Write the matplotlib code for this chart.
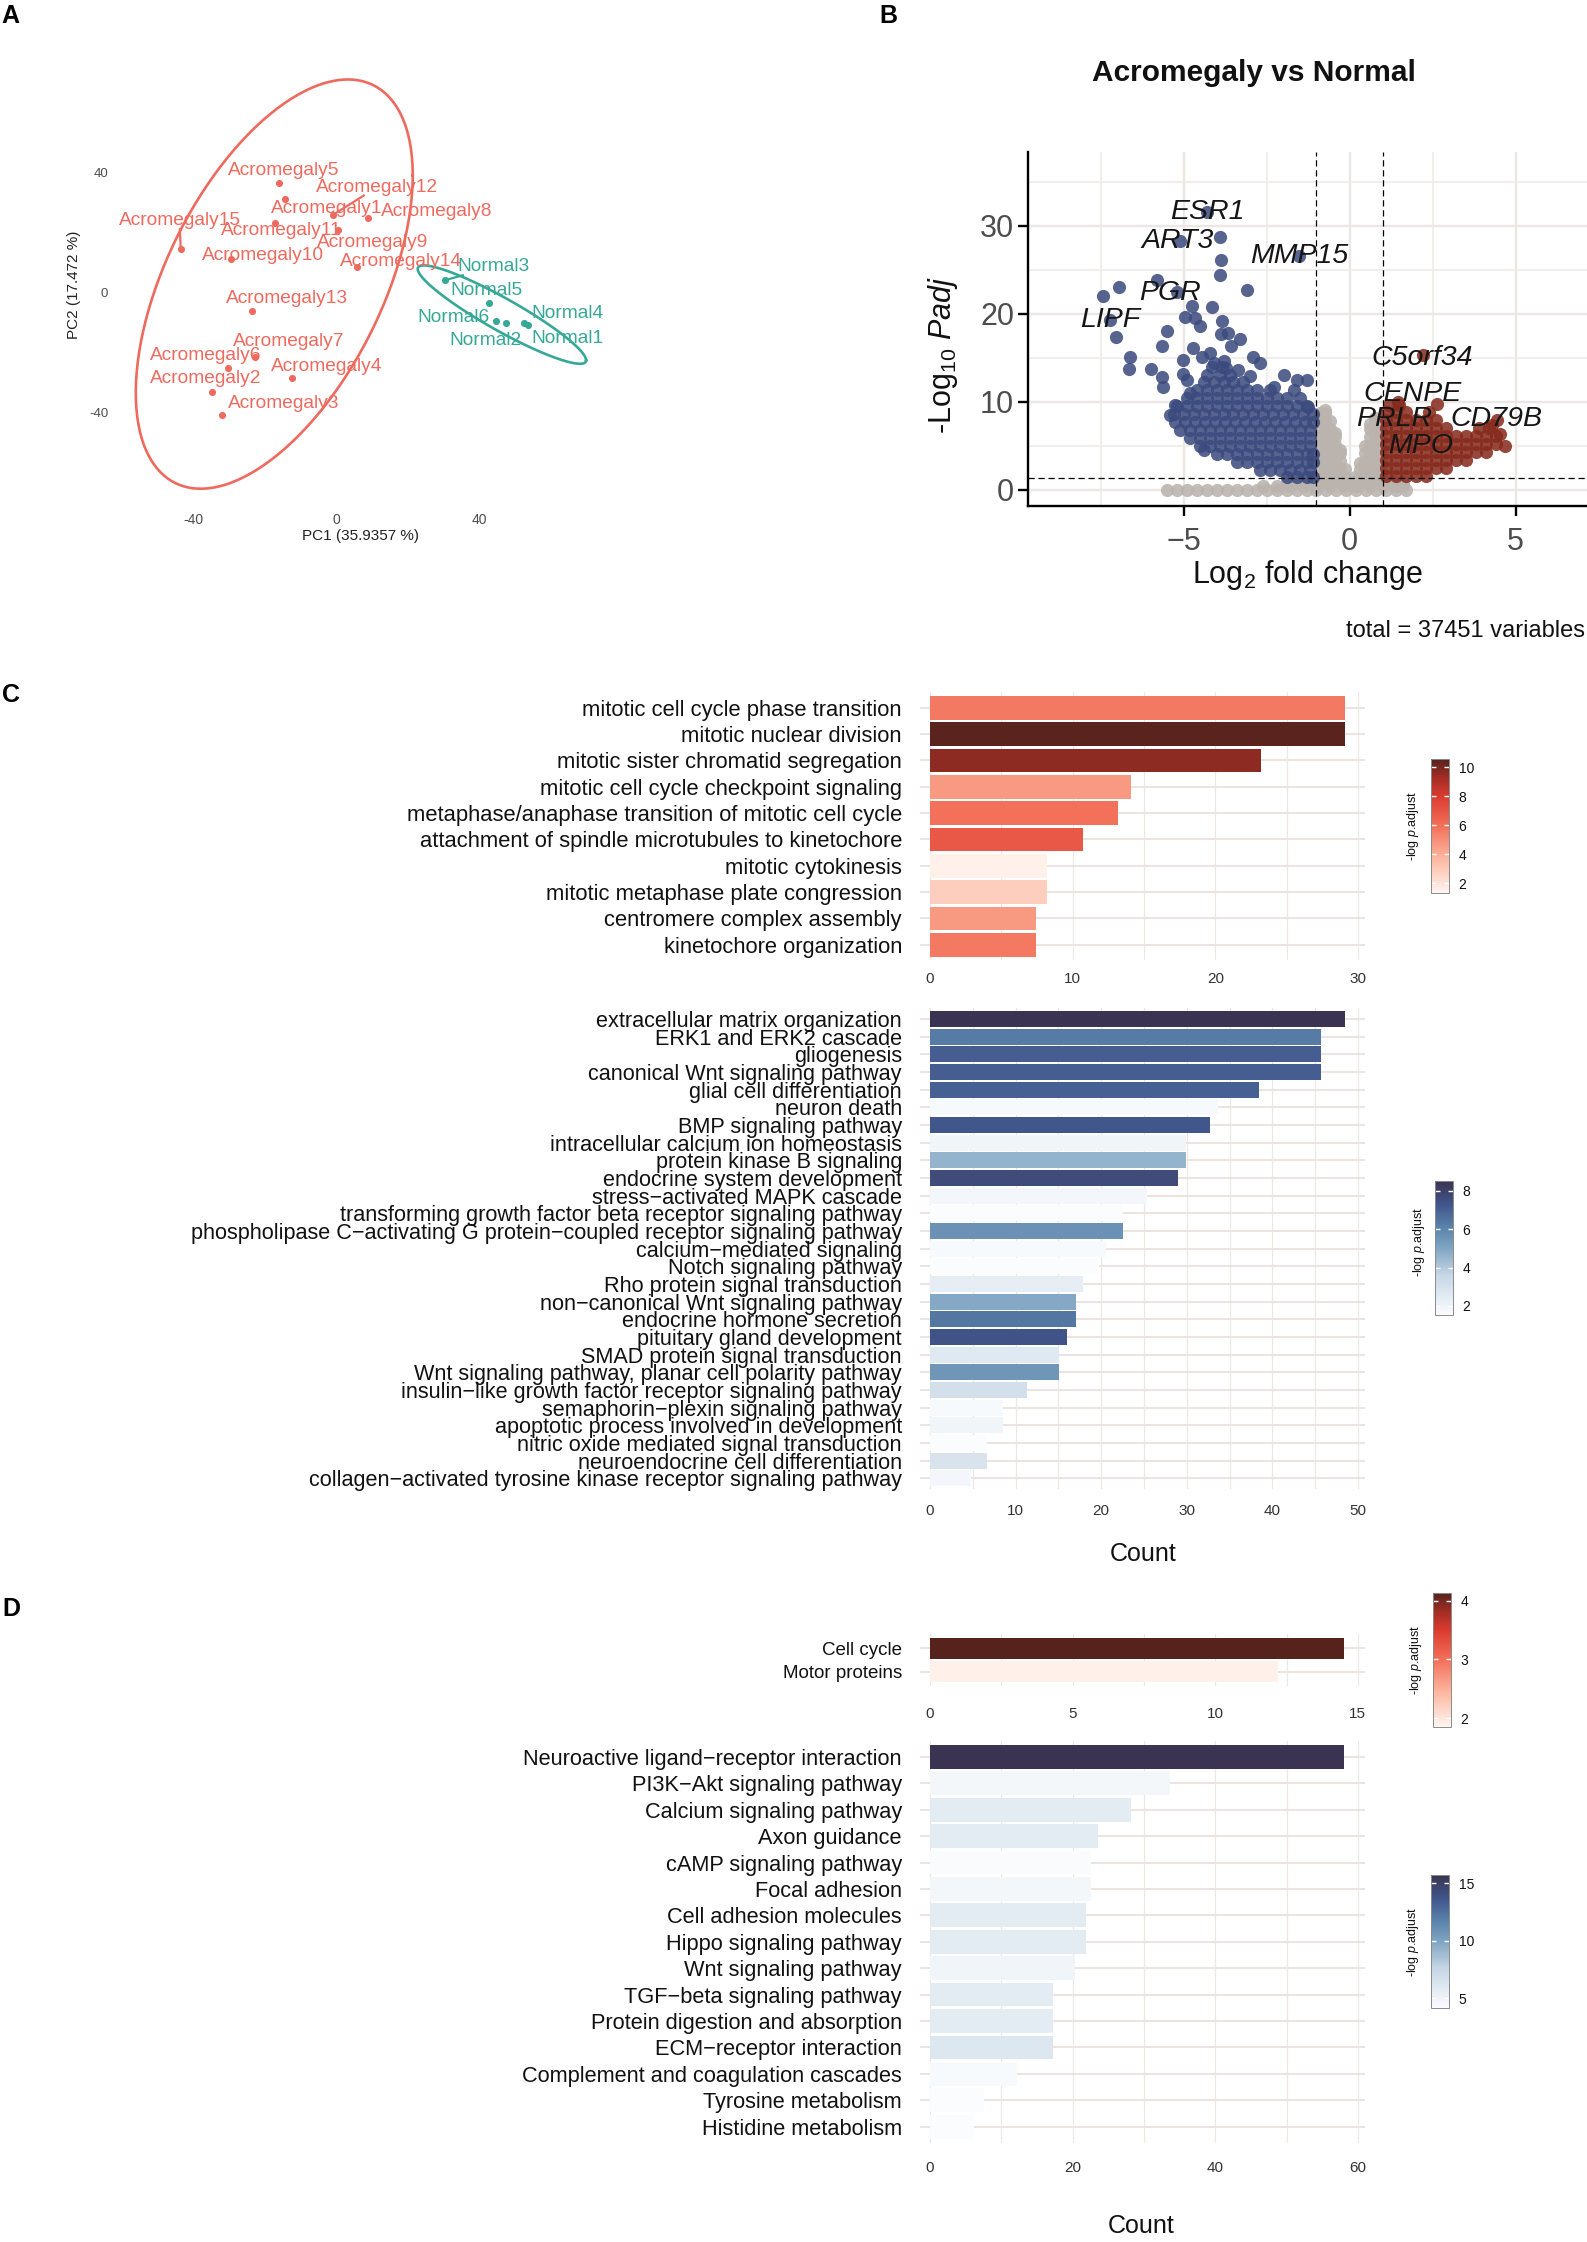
import numpy as np
import matplotlib
matplotlib.use('Agg')
import matplotlib.pyplot as plt
from matplotlib.colors import LinearSegmentedColormap, Normalize
from matplotlib.cm import ScalarMappable
from matplotlib.ticker import MultipleLocator

plt.rcParams['font.family'] = ['Liberation Sans', 'DejaVu Sans']
plt.rcParams['mathtext.fontset'] = 'custom'
plt.rcParams['mathtext.rm'] = 'Liberation Sans'
plt.rcParams['mathtext.it'] = 'Liberation Sans:italic'
plt.rcParams['mathtext.bf'] = 'Liberation Sans:bold'

# ------------------------------------------------------------------ data A (PCA)
acro_names = ['Acromegaly1', 'Acromegaly2', 'Acromegaly3', 'Acromegaly4', 'Acromegaly5',
              'Acromegaly6', 'Acromegaly7', 'Acromegaly8', 'Acromegaly9', 'Acromegaly10',
              'Acromegaly11', 'Acromegaly12', 'Acromegaly13', 'Acromegaly14', 'Acromegaly15']
acro_pc1 = [-14.6, -35.0, -32.1, -12.6, -16.1, -30.3, -22.9, 8.9, 0.4, -29.7, -17.4, -1.1, -23.6, 5.7, -43.7]
acro_pc2 = [31.1, -32.9, -40.6, -28.3, 36.6, -25.0, -21.5, 24.9, 20.9, 11.3, 23.1, 25.8, -6.2, 8.6, 14.4]
acro_lab_x = [-2.7, -36.7, -14.9, -2.9, -14.9, -36.6, -13.4, 28.1, 10.1, -20.7, -15.6, 11.4, -13.9, 17.9, -44.0]
acro_lab_y = [27.9, -28.7, -36.7, -24.4, 40.6, -20.9, -16.2, 27.1, 16.6, 12.3, 20.6, 35.1, -1.8, 10.5, 23.9]

norm_names = ['Normal1', 'Normal2', 'Normal3', 'Normal4', 'Normal5', 'Normal6']
norm_pc1 = [53.7, 47.6, 30.3, 52.4, 42.6, 44.7]
norm_pc2 = [-10.8, -10.2, 4.1, -10.2, -3.4, -9.4]
norm_lab_x = [64.7, 41.6, 43.9, 64.7, 41.9, 32.7]
norm_lab_y = [-15.4, -15.8, 8.6, -6.8, 0.6, -8.2]
segment_labels = ['Acromegaly15', 'Acromegaly12', 'Normal3']

pca_xticks = [-40, 0, 40]
pca_xticklabels = ['-40', '0', '40']
pca_yticks = [-40, 0, 40]
pca_yticklabels = ['-40', '0', '40']

# ------------------------------------------------------------------ data B (volcano)
blue_out_x = [-4.30, -3.92, -5.12, -3.88, -3.90, -1.54, -3.10, -5.81, -6.96, -7.42, -5.20, -4.75,
              -4.15, -7.23, -7.04, -4.97, -4.65, -4.52, -3.85, -5.51, -5.66, -3.88, -3.65, -3.30,
              -3.58, -6.61, -6.66, -5.99, -5.66, -5.61, -5.03, -5.01, -4.71, -4.46, -4.20, -4.10,
              -3.80, -3.72, -2.90, -2.70, -3.35, -3.00, -1.99, -1.59, -1.29, -2.29, -1.69, -1.24,
              -5.26, -5.41, -4.90, -4.80, -4.40]
blue_out_y = [31.6, 28.7, 28.3, 26.1, 24.4, 26.6, 22.7, 23.8, 23.1, 22.0, 22.5, 20.9,
              20.8, 19.3, 17.4, 19.7, 19.5, 18.6, 19.2, 18.0, 16.4, 17.7, 17.8, 17.2,
              16.4, 15.1, 13.7, 13.7, 12.8, 11.7, 14.7, 13.2, 16.1, 15.1, 15.5, 14.4,
              14.6, 13.8, 15.1, 14.4, 13.6, 12.9, 13.0, 12.5, 12.5, 11.7, 11.3, 9.4,
              9.6, 8.5, 12.5, 11.0, 4.5]
blue_row_y = [1.5, 2.3, 3.2, 4.1, 5.0, 5.9, 6.8, 7.7, 8.6, 9.5, 10.4, 11.3, 12.2, 13.1, 14.0]
blue_row_x = [
    [-1.9, -1.6, -1.3, -1.1],
    [-2.7, -2.4, -2.1, -1.8, -1.5, -1.2],
    [-3.4, -3.1, -2.8, -2.5, -2.2, -1.9, -1.6, -1.3, -1.1],
    [-4.0, -3.7, -3.4, -3.1, -2.8, -2.5, -2.2, -1.9, -1.6, -1.3, -1.1],
    [-4.5, -4.2, -3.9, -3.6, -3.3, -3.0, -2.7, -2.4, -2.1, -1.8, -1.5, -1.2],
    [-4.8, -4.5, -4.2, -3.9, -3.6, -3.3, -3.0, -2.7, -2.4, -2.1, -1.8, -1.5, -1.2],
    [-5.1, -4.8, -4.5, -4.2, -3.9, -3.6, -3.3, -3.0, -2.7, -2.4, -2.1, -1.8, -1.5, -1.2],
    [-5.25, -4.95, -4.65, -4.35, -4.05, -3.75, -3.45, -3.15, -2.85, -2.55, -2.25, -1.95, -1.65, -1.35, -1.1],
    [-5.3, -5.0, -4.7, -4.4, -4.1, -3.8, -3.5, -3.2, -2.9, -2.6, -2.3, -2.0, -1.7, -1.4, -1.1],
    [-5.2, -4.9, -4.6, -4.3, -4.0, -3.7, -3.4, -3.1, -2.8, -2.5, -2.2, -1.9, -1.6, -1.3],
    [-4.9, -4.6, -4.3, -4.0, -3.7, -3.4, -3.1, -2.8, -2.5, -2.2, -1.9, -1.5],
    [-4.6, -4.3, -4.0, -3.7, -3.4, -3.1, -2.8, -2.4],
    [-4.4, -4.1, -3.8, -3.5, -3.2],
    [-4.3, -3.9, -3.6],
    [-4.15, -3.85],
]
red_out_x = [2.22, 2.62, 1.47, 4.53, 4.68, 4.45, 4.30]
red_out_y = [15.3, 9.8, 10.0, 6.4, 5.0, 7.9, 7.4]
red_row_y = [1.6, 2.5, 3.4, 4.3, 5.2, 6.1, 7.0, 7.9, 8.8, 9.6]
red_row_x = [
    [1.1, 1.4, 1.7, 2.0, 2.3],
    [1.1, 1.4, 1.7, 2.0, 2.3, 2.6, 2.9],
    [1.1, 1.4, 1.7, 2.0, 2.3, 2.6, 2.9, 3.2, 3.5],
    [1.1, 1.4, 1.7, 2.0, 2.3, 2.6, 2.9, 3.2, 3.5, 3.8, 4.1],
    [1.1, 1.4, 1.7, 2.0, 2.3, 2.6, 2.9, 3.2, 3.5, 3.8, 4.1, 4.4],
    [1.1, 1.4, 1.7, 2.0, 2.3, 2.6, 2.9, 3.2, 3.5, 3.8, 4.1, 4.4],
    [1.1, 1.4, 1.7, 2.0, 2.3, 2.6, 2.9, 3.9, 4.2],
    [1.1, 1.4, 1.7, 2.0, 2.3, 2.6],
    [1.1, 1.4, 1.7, 2.4],
    [1.2, 1.5],
]
gray_row_y = [0.0, 0.45, 0.9]
gray_row_x = [
    [-5.5, -5.2, -4.9, -4.6, -4.3, -4.0, -3.7, -3.4, -3.1, -2.8, -2.5, -2.2, -1.9,
     -1.6, -1.3, -1.0, -0.7, -0.4, -0.1, 0.2, 0.5, 0.8, 1.1, 1.4, 1.7],
    [-2.6, -2.2, -1.8, -1.4, -1.0, -0.6, -0.2, 0.2, 0.6, 1.0, 1.4, 1.6],
    [-1.9, -1.5, -1.1, -0.8, -0.5, -0.2, 0.1, 0.4, 0.7, 1.0, 1.3, 1.6],
]
gray_col_x = [-0.9, -0.75, -0.6, -0.45, -0.3, -0.15, 0.15, 0.3, 0.45, 0.6, 0.75, 0.9]
gray_col_y = [
    [1.5, 2.4, 3.3, 4.2, 5.1, 6.0, 6.9, 7.8, 8.7],
    [1.5, 2.4, 3.3, 4.2, 5.1, 6.0, 6.9, 7.8, 8.7, 9.1],
    [1.5, 2.4, 3.3, 4.2, 5.1, 6.0, 6.9, 7.8],
    [1.5, 2.4, 3.3, 4.2, 5.1, 6.0, 6.5],
    [1.5, 2.4, 3.3, 4.2, 4.5],
    [1.5, 2.4],
    [1.5],
    [1.5, 2.4, 3.0],
    [1.5, 2.4, 3.3, 4.2, 5.0],
    [1.5, 2.4, 3.3, 4.2, 5.1, 6.0, 6.9, 7.5],
    [1.5, 2.4, 3.3, 4.2, 5.1, 6.0, 6.9, 7.8, 8.2],
    [1.5, 2.4, 3.3, 4.2, 5.1, 6.0, 6.9, 7.6],
]
gene_names = ['ESR1', 'ART3', 'MMP15', 'PGR', 'LIPF', 'C5orf34', 'CENPE', 'PRLR', 'CD79B', 'MPO']
gene_lab_x = [-4.3, -5.17, -1.52, -5.42, -7.2, 2.17, 1.88, 1.35, 4.41, 2.15]
gene_lab_y = [31.6, 28.3, 26.6, 22.4, 19.3, 15.0, 10.9, 8.1, 8.1, 5.0]
fc_cut = [-1, 1]
p_cut = 1.3

# ------------------------------------------------------------------ data C (GO)
go1_terms = ['mitotic cell cycle phase transition', 'mitotic nuclear division',
             'mitotic sister chromatid segregation', 'mitotic cell cycle checkpoint signaling',
             'metaphase/anaphase transition of mitotic cell cycle',
             'attachment of spindle microtubules to kinetochore', 'mitotic cytokinesis',
             'mitotic metaphase plate congression', 'centromere complex assembly',
             'kinetochore organization']
go1_count = [29.1, 29.1, 23.2, 14.1, 13.2, 10.7, 8.2, 8.2, 7.4, 7.4]
go1_logp = [5.67, 10.5, 9.65, 4.65, 5.95, 6.87, 1.5, 2.8, 4.65, 5.67]

M = '\u2212'
go2_terms = ['extracellular matrix organization', 'ERK1 and ERK2 cascade', 'gliogenesis',
             'canonical Wnt signaling pathway', 'glial cell differentiation', 'neuron death',
             'BMP signaling pathway', 'intracellular calcium ion homeostasis',
             'protein kinase B signaling', 'endocrine system development',
             'stress' + M + 'activated MAPK cascade',
             'transforming growth factor beta receptor signaling pathway',
             'phospholipase C' + M + 'activating G protein' + M + 'coupled receptor signaling pathway',
             'calcium' + M + 'mediated signaling', 'Notch signaling pathway',
             'Rho protein signal transduction', 'non' + M + 'canonical Wnt signaling pathway',
             'endocrine hormone secretion', 'pituitary gland development',
             'SMAD protein signal transduction', 'Wnt signaling pathway, planar cell polarity pathway',
             'insulin' + M + 'like growth factor receptor signaling pathway',
             'semaphorin' + M + 'plexin signaling pathway', 'apoptotic process involved in development',
             'nitric oxide mediated signal transduction', 'neuroendocrine cell differentiation',
             'collagen' + M + 'activated tyrosine kinase receptor signaling pathway']
go2_count = [48.5, 45.7, 45.7, 45.7, 38.4, 33.6, 32.7, 29.9, 29.9, 29.0, 25.3, 22.5, 22.5,
             20.6, 19.8, 17.9, 17.0, 17.0, 16.0, 15.1, 15.1, 11.3, 8.5, 8.5, 6.7, 6.7, 4.8]
go2_logp = [8.5, 6.3, 7.1, 7.1, 7.0, 1.67, 7.25, 1.95, 4.6, 7.7, 1.88, 1.55, 5.6,
            1.67, 1.55, 2.37, 4.9, 6.4, 7.4, 2.6, 5.5, 3.1, 1.67, 1.95, 1.53, 2.9, 1.88]

# ------------------------------------------------------------------ data D (KEGG)
kegg1_terms = ['Cell cycle', 'Motor proteins']
kegg1_count = [14.5, 12.2]
kegg1_logp = [4.13, 1.9]

kegg2_terms = ['Neuroactive ligand' + M + 'receptor interaction', 'PI3K' + M + 'Akt signaling pathway',
               'Calcium signaling pathway', 'Axon guidance', 'cAMP signaling pathway',
               'Focal adhesion', 'Cell adhesion molecules', 'Hippo signaling pathway',
               'Wnt signaling pathway', 'TGF' + M + 'beta signaling pathway',
               'Protein digestion and absorption', 'ECM' + M + 'receptor interaction',
               'Complement and coagulation cascades', 'Tyrosine metabolism', 'Histidine metabolism']
kegg2_count = [58.1, 33.6, 28.2, 23.5, 22.6, 22.6, 21.9, 21.9, 20.3, 17.2, 17.2, 17.2, 12.2, 7.6, 6.1]
kegg2_logp = [15.7, 4.7, 5.7, 5.7, 4.3, 4.7, 5.7, 5.7, 4.85, 5.7, 5.7, 6.1, 4.4, 4.2, 4.16]

# ------------------------------------------------------------------ figure helpers
W, H = 1587, 2242
fig = plt.figure(figsize=(W / 100, H / 100), dpi=100)
fig.patch.set_facecolor('white')


def axpx(l, t, r, b):
    return fig.add_axes([l / W, 1 - b / H, (r - l) / W, (b - t) / H])


def ftext(x, y, s, **kw):
    kw.setdefault('ha', 'center')
    kw.setdefault('va', 'center')
    return fig.text(x / W, 1 - y / H, s, **kw)


ACRO_C = '#EE6A5E'
NORM_C = '#36A897'

# ------------------------------------------------------------------ Panel A
ftext(10, 16, 'A', fontsize=18, fontweight='bold')
axA = axpx(125, 70, 600, 505)
axA.set_xlim(-59.3, 73.8)
axA.set_ylim(-70.6, 74.0)
for s in axA.spines.values():
    s.set_visible(False)
axA.set_xticks(pca_xticks)
axA.set_xticklabels(pca_xticklabels)
axA.set_yticks(pca_yticks)
axA.set_yticklabels(pca_yticklabels)
axA.tick_params(axis='x', length=0, labelsize=10, labelcolor='#4d4d4d', pad=6)
axA.tick_params(axis='y', length=0, labelsize=9.5, labelcolor='#4d4d4d', pad=12)


def trob_ellipse(x, y, fq, nu=5, maxit=25, tol=0.01):
    X0 = np.column_stack([x, y]).astype(float)
    n, p = X0.shape
    loc = X0.mean(axis=0)
    w = np.ones(n)
    for _ in range(maxit):
        w0 = w
        X = X0 - loc
        U, d, Vt = np.linalg.svd(np.sqrt(w / w.sum())[:, None] * X, full_matrices=False)
        wX = X @ Vt.T @ np.diag(1 / d)
        Q = (wX ** 2).sum(axis=1)
        w = (nu + p) / (nu + Q)
        loc = (w[:, None] * X0).sum(axis=0) / w.sum()
        if np.all(np.abs(w - w0) < tol):
            break
    X = X0 - loc
    cov = (np.sqrt(w)[:, None] * X).T @ (np.sqrt(w)[:, None] * X) / n
    L = np.linalg.cholesky(cov)
    r = np.sqrt(2 * fq)
    t = np.linspace(0, 2 * np.pi, 240)
    pts = L @ np.vstack([np.cos(t), np.sin(t)]) * r
    return loc[0] + pts[0], loc[1] + pts[1]


ex, ey = trob_ellipse(acro_pc1, acro_pc2, 3.7389)   # qf(0.95, 2, 14)
axA.plot(ex, ey, color=ACRO_C, lw=1.9)
ex, ey = trob_ellipse(norm_pc1, norm_pc2, 5.7861)   # qf(0.95, 2, 5)
axA.plot(ex, ey, color=NORM_C, lw=1.9)
axA.scatter(acro_pc1, acro_pc2, s=26, color=ACRO_C, zorder=3, linewidths=0)
axA.scatter(norm_pc1, norm_pc2, s=26, color=NORM_C, zorder=3, linewidths=0)
label_objs = {}
pt_lookup = {}
for nm, px, py, lx, ly in zip(acro_names, acro_pc1, acro_pc2, acro_lab_x, acro_lab_y):
    label_objs[nm] = axA.text(lx, ly, nm, color=ACRO_C, fontsize=13.8, ha='center', va='center', zorder=4)
    pt_lookup[nm] = (px, py, ACRO_C)
for nm, px, py, lx, ly in zip(norm_names, norm_pc1, norm_pc2, norm_lab_x, norm_lab_y):
    label_objs[nm] = axA.text(lx, ly, nm, color=NORM_C, fontsize=13.8, ha='center', va='center', zorder=4)
    pt_lookup[nm] = (px, py, NORM_C)
ftext(361, 536, 'PC1 (35.9357 %)', fontsize=11, color='#222222')
ftext(74, 285, 'PC2 (17.472 %)', fontsize=11, color='#222222', rotation=90)

# ------------------------------------------------------------------ Panel B
ftext(888, 16, 'B', fontsize=18, fontweight='bold')
ftext(1254, 73, 'Acromegaly vs Normal', fontsize=21.5, fontweight='bold', color='#111111')
axB = axpx(1028, 152, 1587, 506)
axB.set_xlim(-9.69, 7.15)
axB.set_ylim(-1.84, 38.4)
axB.set_xticks([-5, 0, 5])
axB.set_yticks([0, 10, 20, 30])
axB.xaxis.set_minor_locator(MultipleLocator(2.5))
axB.yaxis.set_minor_locator(MultipleLocator(5))
axB.grid(which='major', color='#ede7e4', lw=1.7, zorder=0)
axB.grid(which='minor', color='#efeae7', lw=1.1, zorder=0)
axB.set_axisbelow(True)
for side in ['top', 'right']:
    axB.spines[side].set_visible(False)
for side in ['left', 'bottom']:
    axB.spines[side].set_linewidth(1.7)
    axB.spines[side].set_color('black')
axB.tick_params(which='major', length=7, width=1.7, color='black', labelsize=22, labelcolor='#4d4d4d')
axB.tick_params(axis='x', pad=8)
axB.tick_params(axis='y', pad=3)
axB.tick_params(which='minor', length=0)

gx = [x for row in gray_row_x for x in row]
gy = [y for row, y in zip(gray_row_x, gray_row_y) for _ in row]
gx += [x for x, col in zip(gray_col_x, gray_col_y) for _ in col]
gy += [y for col in gray_col_y for y in col]
bx = [x for row in blue_row_x for x in row] + blue_out_x
by = [y for row, y in zip(blue_row_x, blue_row_y) for _ in row] + blue_out_y
rx = [x for row in red_row_x for x in row] + red_out_x
ry = [y for row, y in zip(red_row_x, red_row_y) for _ in row] + red_out_y
PT = 90
axB.scatter(gx, gy, s=PT, color='#bab3ae', alpha=0.88, linewidths=0, zorder=2)
axB.scatter(bx, by, s=PT, color='#3b4a7e', alpha=0.86, linewidths=0, zorder=3)
axB.scatter(rx, ry, s=PT, color='#862a1c', alpha=0.86, linewidths=0, zorder=3)
for v in fc_cut:
    axB.axvline(v, color='black', lw=0.9, ls=(0, (5, 3)), zorder=4)
axB.axhline(p_cut, color='black', lw=0.9, ls=(0, (5, 3)), zorder=4)
for nm, lx, ly in zip(gene_names, gene_lab_x, gene_lab_y):
    axB.text(lx, ly, nm, fontsize=20.5, style='italic', ha='center', va='center', color='#151515', zorder=5)
ftext(1307, 575, r'Log$_2$ fold change', fontsize=22, color='#111111')
ftext(943, 355, r'-Log$_{10}$ $\mathit{Padj}$', fontsize=22, color='#111111', rotation=90)
ftext(1585, 631, 'total = 37451 variables', fontsize=17, ha='right', color='#111111')

# ------------------------------------------------------------------ colormaps
reds = LinearSegmentedColormap.from_list('reds_c', [(0, '#fff5f0'), (0.25, '#fcb9a2'), (0.5, '#f3705a'),
                                                    (0.72, '#dc3b2f'), (0.86, '#a42d25'), (1, '#56221c')])
blues = LinearSegmentedColormap.from_list('blues_c', [(0, '#fbfcfe'), (0.3, '#c5d6e5'), (0.5, '#7fa5c2'),
                                                      (0.65, '#5b84ab'), (0.82, '#41578c'), (1, '#3a3352')])


def bar_panel(ax, terms, counts, logp, cmap, vmin, vmax, xlim, ticks, minor, fs, pad):
    y = np.arange(len(terms))
    norm = Normalize(vmin, vmax)
    ax.barh(y, counts, height=0.9, color=cmap(norm(np.asarray(logp))), zorder=2)
    ax.set_ylim(len(terms) - 1 + 0.6, -0.6)
    ax.set_yticks(y)
    ax.set_yticklabels(terms)
    ax.set_xlim(*xlim)
    ax.set_xticks(ticks)
    ax.xaxis.set_minor_locator(MultipleLocator(minor))
    ax.set_axisbelow(True)
    ax.grid(axis='y', color='#ece4e1', lw=1.4, zorder=0)
    ax.grid(axis='x', which='both', color='#ede6e3', lw=0.85, zorder=0)
    for s in ax.spines.values():
        s.set_visible(False)
    ax.tick_params(which='both', length=0)
    ax.tick_params(axis='y', labelsize=fs, labelcolor='#111111', pad=13)
    ax.tick_params(axis='x', labelsize=11, labelcolor='#333333', pad=pad)


def cbar(l, t, r, b, cmap, vmin, vmax, ticks, tx, ty):
    cax = axpx(l, t, r, b)
    sm = ScalarMappable(norm=Normalize(vmin, vmax), cmap=cmap)
    cb = fig.colorbar(sm, cax=cax, ticks=ticks)
    cb.outline.set_edgecolor('#8a8a8a')
    cb.outline.set_linewidth(0.7)
    cax.tick_params(direction='in', length=3.5, width=1.0, color='white', labelcolor='#111111',
                    labelsize=10, left=True, right=True, pad=7)
    ftext(tx, ty, r'-log $\mathit{p}$.adjust', fontsize=9, rotation=90, color='#111111')


# ------------------------------------------------------------------ Panel C
ftext(11, 695, 'C', fontsize=18, fontweight='bold')
axC1 = axpx(920, 692, 1365, 960.5)
bar_panel(axC1, go1_terms, go1_count, go1_logp, reds, 1.31, 10.58, (-0.70, 30.49),
          [0, 10, 20, 30], 5, 15.8, 8)
cbar(1431, 759, 1449, 893, reds, 1.31, 10.58, [2, 4, 6, 8, 10], 1413, 826)

axC2 = axpx(920, 1008.4, 1365, 1489)
bar_panel(axC2, go2_terms, go2_count, go2_logp, blues, 1.53, 8.52, (-1.168, 50.82),
          [0, 10, 20, 30, 40, 50], 5, 15.6, 11)
cbar(1435, 1181, 1453, 1315, blues, 1.53, 8.52, [2, 4, 6, 8], 1419, 1242)
ftext(1143, 1554, 'Count', fontsize=18, color='#111111')

# ------------------------------------------------------------------ Panel D
ftext(11, 1609, 'D', fontsize=18, fontweight='bold')
axD1 = axpx(920, 1634.3, 1365, 1685.8)
bar_panel(axD1, kegg1_terms, kegg1_count, kegg1_logp, reds, 1.85, 4.13, (-0.350, 15.25),
          [0, 5, 10, 15], 2.5, 13.5, 15)
cbar(1433, 1593, 1451, 1727, reds, 1.85, 4.13, [2, 3, 4], 1416, 1660)

axD2 = axpx(920, 1741, 1365, 2142.5)
bar_panel(axD2, kegg2_terms, kegg2_count, kegg2_logp, blues, 4.16, 15.72, (-1.402, 60.98),
          [0, 20, 40, 60], 10, 15.7, 13)
cbar(1431, 1875, 1449, 2008, blues, 4.16, 15.72, [5, 10, 15], 1413, 1942)
ftext(1141, 2226, 'Count', fontsize=18, color='#111111')

# ------------------------------------------------------------------ ggrepel-like segments in A
fig.canvas.draw()
rend = fig.canvas.get_renderer()
inv = axA.transData.inverted()
for nm in segment_labels:
    bb = label_objs[nm].get_window_extent(rend)
    cx, cy = (bb.x0 + bb.x1) / 2, (bb.y0 + bb.y1) / 2
    px, py, col = pt_lookup[nm]
    qx, qy = axA.transData.transform((px, py))
    dx, dy = qx - cx, qy - cy
    sc = min(bb.width / 2 / abs(dx) if dx else np.inf, bb.height / 2 / abs(dy) if dy else np.inf)
    dist = np.hypot(dx, dy)
    start = inv.transform((cx + dx * sc, cy + dy * sc))
    end = inv.transform((qx - dx / dist * 2, qy - dy / dist * 2))
    axA.plot([start[0], end[0]], [start[1], end[1]], color=col, lw=1.6, zorder=3)

fig.savefig('out.png', dpi=100, facecolor='white')
